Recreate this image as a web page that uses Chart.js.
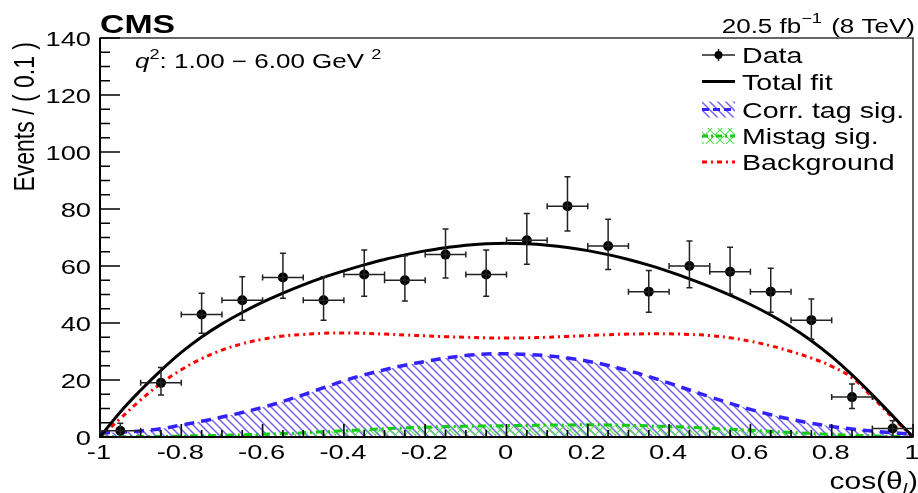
<!DOCTYPE html>
<html>
<head>
<meta charset="utf-8">
<script src="https://cdn.jsdelivr.net/npm/chart.js@4.4.0/dist/chart.umd.min.js"></script>
<style>
  html, body { margin: 0; padding: 0; background: #fff; }
  #wrap { width: 918px; height: 493px; }
</style>
</head>
<body>
<div id="wrap"><canvas id="chart" width="918" height="493"></canvas></div>
<script>
// data points (bin centres, events, asymmetric errors)
const binX = [-0.95, -0.85, -0.75, -0.65, -0.55, -0.45, -0.35, -0.25, -0.15, -0.05,
  0.05, 0.15, 0.25, 0.35, 0.45, 0.55, 0.65, 0.75, 0.85, 0.95];
const dataY = [2.2, 19, 43, 48, 56, 48, 57, 55, 64, 57, 69, 81, 67, 51, 60, 58, 51, 41, 14, 3];
const errHi = [2.6, 5.4, 7.4, 8.2, 8.5, 8.2, 8.6, 8.6, 9, 8.6, 9.4, 10.3, 9.4, 7.4, 8.8, 8.6, 8.2, 7.4, 4.6, 2.7];
const errLo = [2.2, 4.3, 6.6, 7, 7.3, 7, 7.6, 7.3, 8.2, 7.6, 8.4, 8.7, 8.2, 7.2, 7.6, 7.8, 7.2, 6.7, 4, 3];
const binHalf = 0.05;

// fit curves, read every 0.05
const curveX = [-1, -0.95, -0.9, -0.85, -0.8, -0.75, -0.7, -0.65, -0.6, -0.55, -0.5,
  -0.45, -0.4, -0.35, -0.3, -0.25, -0.2, -0.15, -0.1, -0.05, 0,
  0.05, 0.1, 0.15, 0.2, 0.25, 0.3, 0.35, 0.4, 0.45, 0.5,
  0.55, 0.6, 0.65, 0.7, 0.75, 0.8, 0.85, 0.9, 0.95, 1];
const totalFit = [0, 8.8, 16.4, 23.4, 29.7, 35.1, 39.7, 43.7, 47.3, 50.5, 53.4,
  56, 58.3, 60.4, 62.3, 63.9, 65.3, 66.4, 67.3, 67.8, 68,
  67.8, 67.3, 66.5, 65.4, 64, 62.3, 60.3, 58, 55.5, 52.8,
  49.8, 46.5, 42.8, 38.6, 33.8, 28.2, 21.8, 14.8, 7.4, 0];
const corrTag = [1.4, 1.7, 2.1, 2.9, 4.2, 5.5, 7, 8.6, 10.4, 12.5, 14.8,
  17.3, 19.7, 21.8, 23.6, 25.2, 26.5, 27.7, 28.6, 29.1, 29.2,
  29, 28.5, 27.7, 26.6, 25.1, 23.3, 21.2, 18.9, 16.5, 14.1,
  11.8, 9.7, 7.8, 6.2, 4.8, 3.7, 2.8, 2.1, 1.5, 1];
const mistag = [0, 0.1, 0.15, 0.25, 0.35, 0.45, 0.6, 0.75, 0.95, 1.2, 1.5,
  1.85, 2.2, 2.55, 2.9, 3.2, 3.45, 3.65, 3.8, 3.9, 4,
  4.1, 4.2, 4.25, 4.3, 4.25, 4.1, 3.9, 3.7, 3.4, 3.1,
  2.75, 2.4, 2, 1.6, 1.25, 0.9, 0.6, 0.4, 0.2, 0];
const background = [0, 6.5, 13, 18.8, 23.6, 27.5, 30.5, 32.7, 34.3, 35.4, 36,
  36.4, 36.5, 36.4, 36.1, 35.8, 35.5, 35.2, 35, 34.8, 34.7,
  34.8, 35, 35.3, 35.6, 35.9, 36.1, 36.2, 36.2, 36, 35.6,
  34.8, 33.6, 32, 30, 27.7, 24.8, 20.8, 14, 6.8, 0];

const legendLabels = ["Data", "Total fit", "Corr. tag sig.", "Mistag sig.", "Background"];

const FONT = '"Liberation Sans", Arial, sans-serif';
const SX = 1.3; // the picture's text is stretched sideways

const BLUE = "#3322ff";
const GREEN = "#11cc11";
const RED = "#ff0000";

const pts = (xs, ys) => xs.map((x, i) => ({ x, y: ys[i] }));

function makeHatch(color, cross, size, width) {
  const c = document.createElement("canvas");
  c.width = size;
  c.height = size;
  const g = c.getContext("2d");
  g.strokeStyle = color;
  g.lineWidth = width;
  g.beginPath();
  g.moveTo(-1, -1); g.lineTo(size + 1, size + 1);
  g.moveTo(-1, size - 1); g.lineTo(1, size + 1);
  g.moveTo(size - 1, -1); g.lineTo(size + 1, 1);
  if (cross) {
    g.moveTo(size + 1, -1); g.lineTo(-1, size + 1);
    g.moveTo(1, -1); g.lineTo(-1, 1);
    g.moveTo(size + 1, size - 1); g.lineTo(size - 1, size + 1);
  }
  g.stroke();
  return g.createPattern(c, "repeat");
}

const ctx0 = document.getElementById("chart").getContext("2d");
const blueHatch = makeHatch("#7563f0", false, 8, 1.5);
const greenHatch = makeHatch("#55dd55", true, 10, 1.1);

// draw a run of text pieces [{t, size, dy, style}] starting at x (or ending at x)
function runs(ctx, parts, x, y, align = "left") {
  const widths = parts.map((p) => {
    ctx.font = `${p.style || ""} ${p.size}px ${FONT}`;
    return ctx.measureText(p.t).width * SX + (p.gap || 0);
  });
  const total = widths.reduce((a, b) => a + b, 0);
  let cx = align === "right" ? x - total : align === "center" ? x - total / 2 : x;
  parts.forEach((p, i) => {
    ctx.save();
    ctx.font = `${p.style || ""} ${p.size}px ${FONT}`;
    ctx.fillStyle = "#000";
    ctx.textBaseline = "alphabetic";
    ctx.textAlign = "left";
    ctx.translate(cx, y + (p.dy || 0));
    ctx.scale(SX, 1);
    ctx.fillText(p.t, 0, 0);
    ctx.restore();
    cx += widths[i];
  });
}

function fmt(v) {
  return parseFloat(v.toFixed(2)).toString();
}

const rootStyle = {
  id: "rootStyle",
  afterDatasetsDraw(chart) {
    const { ctx, chartArea: a, scales } = chart;
    const xs = scales.x, ys = scales.y;

    // frame
    ctx.save();
    ctx.strokeStyle = "#333";
    ctx.lineWidth = 1.5;
    ctx.strokeRect(a.left, a.top, a.right - a.left, a.bottom - a.top);
    ctx.strokeStyle = "#000";
    ctx.lineWidth = 2;
    ctx.beginPath();
    ctx.moveTo(a.left, a.top);
    ctx.lineTo(a.left, a.bottom);
    ctx.lineTo(a.right, a.bottom);
    ctx.stroke();

    // ticks (inward, with 3 minors between majors)
    ctx.lineWidth = 1.6;
    ctx.beginPath();
    const yt = ys.ticks.map((t) => t.value);
    yt.forEach((v, i) => {
      const py = ys.getPixelForValue(v);
      ctx.moveTo(a.left, py); ctx.lineTo(a.left + 20, py);
      if (i < yt.length - 1) {
        for (let k = 1; k < 4; k++) {
          const m = ys.getPixelForValue(v + (yt[i + 1] - v) * k / 4);
          ctx.moveTo(a.left, m); ctx.lineTo(a.left + 10, m);
        }
      }
    });
    const xt = xs.ticks.map((t) => t.value);
    xt.forEach((v, i) => {
      const px = xs.getPixelForValue(v);
      ctx.moveTo(px, a.bottom); ctx.lineTo(px, a.bottom - 13);
      if (i < xt.length - 1) {
        for (let k = 1; k < 4; k++) {
          const m = xs.getPixelForValue(v + (xt[i + 1] - v) * k / 4);
          ctx.moveTo(m, a.bottom); ctx.lineTo(m, a.bottom - 7);
        }
      }
    });
    ctx.stroke();
    ctx.restore();

    // tick labels
    yt.forEach((v) => {
      runs(ctx, [{ t: fmt(v), size: 21 }], a.left - 9, ys.getPixelForValue(v) + 7.5, "right");
    });
    xt.forEach((v) => {
      runs(ctx, [{ t: fmt(v), size: 21 }], xs.getPixelForValue(v) - 1, a.bottom + 22, "center");
    });

    // error bars of the data
    ctx.save();
    ctx.strokeStyle = "#222";
    ctx.lineWidth = 1.5;
    ctx.beginPath();
    binX.forEach((x, i) => {
      const px = xs.getPixelForValue(x);
      const py = ys.getPixelForValue(dataY[i]);
      const x0 = xs.getPixelForValue(x - binHalf), x1 = xs.getPixelForValue(x + binHalf);
      const y0 = ys.getPixelForValue(dataY[i] - errLo[i]), y1 = ys.getPixelForValue(dataY[i] + errHi[i]);
      ctx.moveTo(x0, py); ctx.lineTo(x1, py);
      ctx.moveTo(x0, py - 3); ctx.lineTo(x0, py + 3);
      ctx.moveTo(x1, py - 3); ctx.lineTo(x1, py + 3);
      ctx.moveTo(px, y0); ctx.lineTo(px, y1);
      ctx.moveTo(px - 3, y0); ctx.lineTo(px + 3, y0);
      ctx.moveTo(px - 3, y1); ctx.lineTo(px + 3, y1);
    });
    ctx.stroke();
    ctx.restore();
  },
  afterDraw(chart) {
    const { ctx, chartArea: a } = chart;

    // headers
    runs(ctx, [{ t: "CMS", size: 26, style: "bold" }], a.left, 33);
    runs(ctx, [
      { t: "20.5 fb", size: 20 },
      { t: "\u22121", size: 14, dy: -10, gap: 2 },
      { t: " (8 TeV)", size: 20 },
    ], 915, 33, "right");
    runs(ctx, [
      { t: "q", size: 20, style: "italic" },
      { t: "2", size: 14, dy: -9 },
      { t: ": 1.00 \u2212 6.00 GeV ", size: 20 },
      { t: "2", size: 14, dy: -9 },
    ], 135, 68);

    // axis titles
    runs(ctx, [
      { t: "cos(\u03b8", size: 23 },
      { t: "l", size: 15, style: "italic", dy: 5, gap: 1 },
      { t: ")", size: 23 },
    ], 918, 489, "right");

    ctx.save();
    ctx.translate(34, 42);
    ctx.rotate(-Math.PI / 2);
    ctx.scale(1, SX);
    ctx.font = `23px ${FONT}`;
    ctx.fillStyle = "#000";
    ctx.textAlign = "right";
    ctx.textBaseline = "alphabetic";
    ctx.fillText("Events / ( 0.1 )", 0, 0);
    ctx.restore();

    // legend
    const lx0 = 702, lx1 = 735, tx = 742;
    const rows = [55, 81.5, 109.5, 136, 162];
    ctx.save();
    // data
    ctx.strokeStyle = "#222";
    ctx.lineWidth = 1.5;
    ctx.beginPath();
    ctx.moveTo(lx0, rows[0]); ctx.lineTo(lx1, rows[0]);
    ctx.moveTo(718.5, rows[0] - 6); ctx.lineTo(718.5, rows[0] + 6);
    ctx.stroke();
    ctx.fillStyle = "#000";
    ctx.beginPath();
    ctx.arc(718.5, rows[0], 4, 0, Math.PI * 2);
    ctx.fill();
    // total fit
    ctx.strokeStyle = "#000";
    ctx.lineWidth = 3;
    ctx.beginPath();
    ctx.moveTo(lx0, rows[1]); ctx.lineTo(lx1, rows[1]);
    ctx.stroke();
    // hatched boxes
    [[blueHatch, BLUE, [7, 4]], [greenHatch, GREEN, [6, 3, 2, 3]]].forEach(([pat, col, dash], k) => {
      const cy = rows[2 + k];
      ctx.fillStyle = pat;
      ctx.fillRect(lx0, cy - 8, lx1 - lx0, 16);
      ctx.strokeStyle = col;
      ctx.lineWidth = 3;
      ctx.setLineDash(dash);
      ctx.beginPath();
      ctx.moveTo(lx0, cy); ctx.lineTo(lx1, cy);
      ctx.stroke();
      ctx.setLineDash([]);
    });
    // background
    ctx.strokeStyle = RED;
    ctx.lineWidth = 3;
    ctx.setLineDash([5, 4, 2, 4]);
    ctx.beginPath();
    ctx.moveTo(lx0, rows[4]); ctx.lineTo(lx1, rows[4]);
    ctx.stroke();
    ctx.restore();

    legendLabels.forEach((t, i) => runs(ctx, [{ t, size: 22 }], tx, rows[i] + 8));
  },
};

const curveStyle = {
  pointRadius: 0,
  tension: 0.4,
  borderWidth: 3,
};

new Chart(ctx0, {
  type: "line",
  data: {
    datasets: [
      {
        label: legendLabels[0],
        data: pts(binX, dataY),
        showLine: false,
        pointRadius: 5,
        pointBackgroundColor: "#000",
        pointBorderColor: "#000",
        pointBorderWidth: 0,
      },
      {
        ...curveStyle,
        label: legendLabels[1],
        data: pts(curveX, totalFit),
        borderColor: "#000",
        fill: false,
      },
      {
        ...curveStyle,
        label: legendLabels[4],
        data: pts(curveX, background),
        borderColor: RED,
        borderDash: [5, 4, 2, 4],
        fill: false,
      },
      {
        ...curveStyle,
        label: legendLabels[3],
        data: pts(curveX, mistag),
        borderColor: GREEN,
        borderDash: [8, 4, 2, 4],
        backgroundColor: greenHatch,
        fill: "origin",
      },
      {
        ...curveStyle,
        label: legendLabels[2],
        data: pts(curveX, corrTag),
        borderColor: BLUE,
        borderWidth: 3.5,
        borderDash: [10, 7],
        backgroundColor: blueHatch,
        fill: "origin",
      },
    ],
  },
  options: {
    responsive: false,
    animation: false,
    devicePixelRatio: 1,
    layout: { padding: { top: 38, right: 1, left: 0, bottom: 0 } },
    plugins: {
      legend: { display: false },
      tooltip: { enabled: false },
    },
    scales: {
      x: {
        type: "linear",
        min: -1,
        max: 1,
        ticks: { stepSize: 0.2, display: false },
        grid: { display: false },
        border: { display: false },
        afterFit: (s) => { s.height = 56; },
      },
      y: {
        min: 0,
        max: 140,
        ticks: { stepSize: 20, display: false },
        grid: { display: false },
        border: { display: false },
        afterFit: (s) => { s.width = 100; },
      },
    },
  },
  plugins: [rootStyle],
});
</script>
</body>
</html>
